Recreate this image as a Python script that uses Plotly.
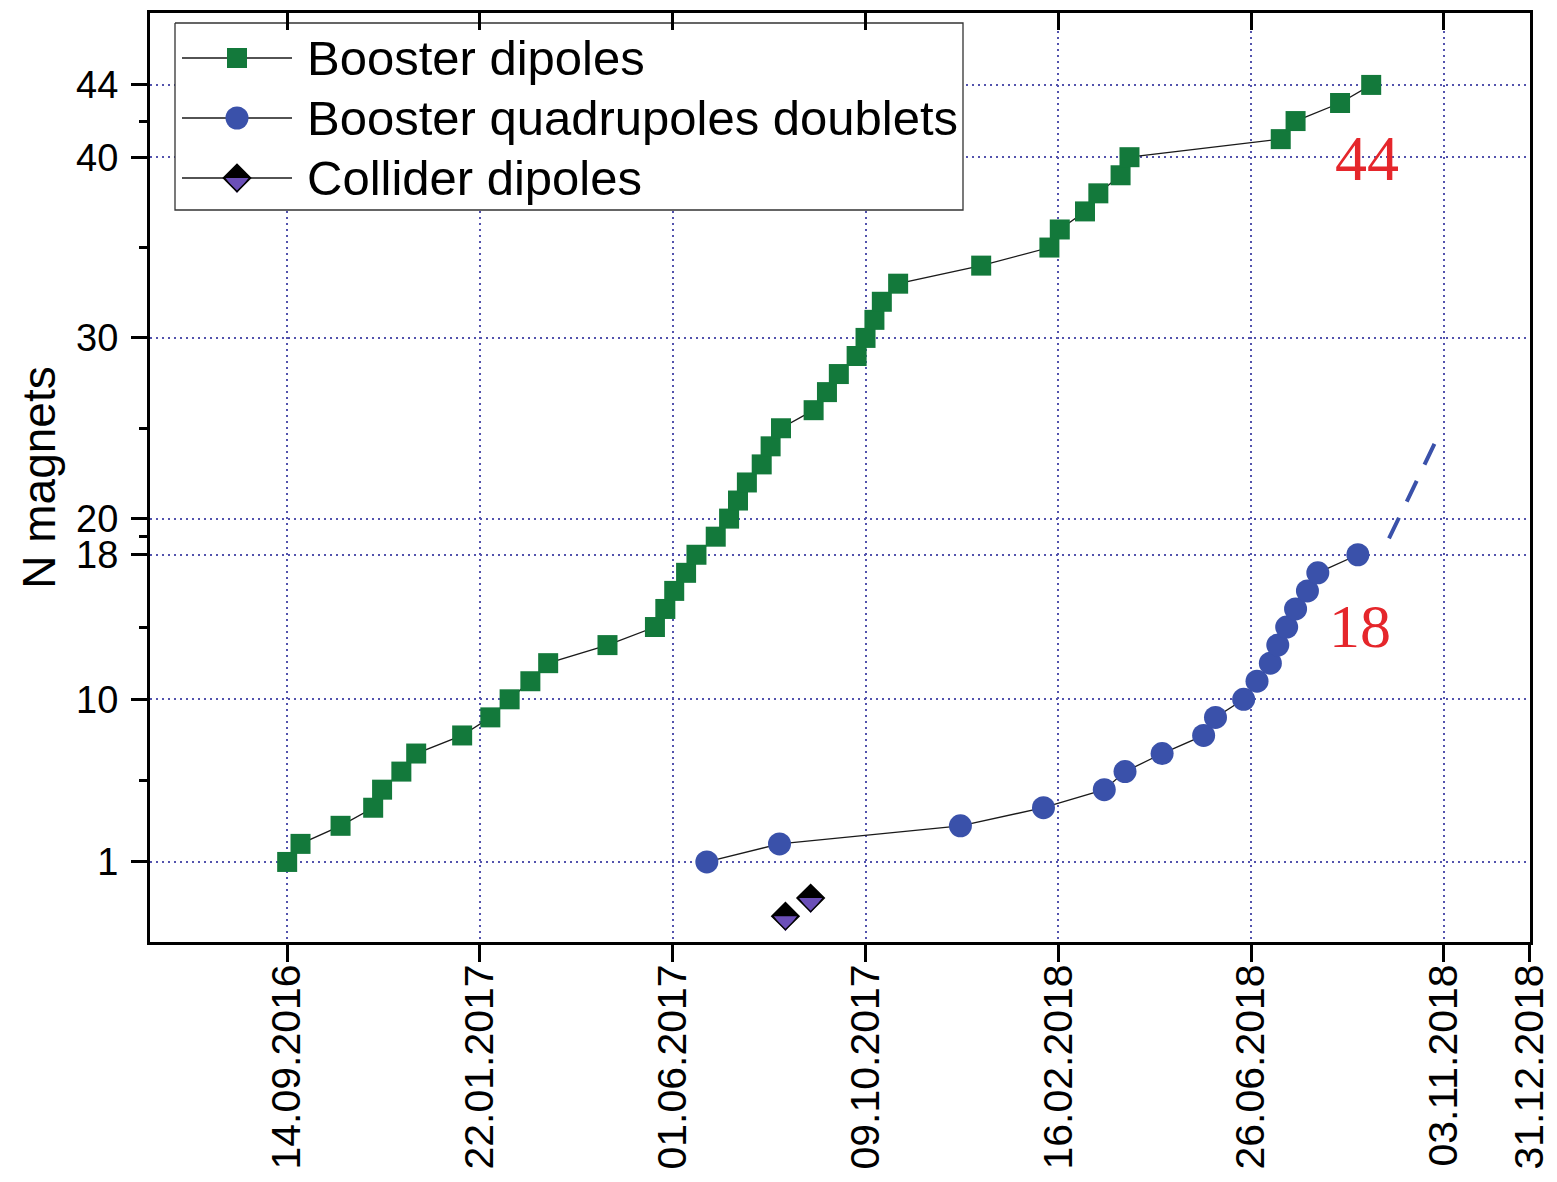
import plotly.graph_objects as go

# ---------------------------------------------------------------- data
booster_dipole_dates = [
    "2016-09-14", "2016-09-23", "2016-10-20", "2016-11-11", "2016-11-17", "2016-11-30", "2016-12-10",
    "2017-01-10", "2017-01-29", "2017-02-11", "2017-02-25", "2017-03-09", "2017-04-18", "2017-05-20",
    "2017-05-27", "2017-06-02", "2017-06-10", "2017-06-17", "2017-06-30", "2017-07-09", "2017-07-15",
    "2017-07-21", "2017-07-31", "2017-08-06", "2017-08-13", "2017-09-04", "2017-09-13", "2017-09-21",
    "2017-10-03", "2017-10-09", "2017-10-15", "2017-10-20", "2017-10-31", "2017-12-26", "2018-02-10",
    "2018-02-17", "2018-03-06", "2018-03-15", "2018-03-30", "2018-04-05", "2018-07-16", "2018-07-26",
    "2018-08-25", "2018-09-15",
]
booster_dipole_count = [
    1, 2, 3, 4, 5, 6, 7, 8, 9, 10, 11, 12, 13, 14, 15, 16, 17, 18, 19, 20, 21, 22,
    23, 24, 25, 26, 27, 28, 29, 30, 31, 32, 33, 34, 35, 36, 37, 38, 39, 40, 41, 42, 43, 44,
]

quad_doublet_dates = [
    "2017-06-24", "2017-08-12", "2017-12-12", "2018-02-06", "2018-03-19", "2018-04-02",
    "2018-04-27", "2018-05-25", "2018-06-02", "2018-06-21", "2018-06-30", "2018-07-09",
    "2018-07-14", "2018-07-20", "2018-07-26", "2018-08-03", "2018-08-10", "2018-09-06",
]
quad_doublet_count = [1, 2, 3, 4, 5, 6, 7, 8, 9, 10, 11, 12, 13, 14, 15, 16, 17, 18]

# expected continuation of the doublet series
quad_forecast_dates = ["2018-09-27", "2018-10-28"]
quad_forecast_count = [18.9, 24.2]

collider_dipole_dates = ["2017-08-16", "2017-09-02"]
collider_dipole_count = [1, 2]

date_ticks = ["2016-09-14", "2017-01-22", "2017-06-01", "2017-10-09",
              "2018-02-16", "2018-06-26", "2018-11-03", "2018-12-31"]
count_ticks = [1, 10, 18, 20, 30, 40, 44]
count_minor_ticks = [5.5, 14, 19, 25, 35, 42]

legend_labels = ["Booster dipoles", "Booster quadrupoles doublets", "Collider dipoles"]

# ---------------------------------------------------------------- style
W, H = 1557, 1182
MARGIN = dict(l=150, r=27, t=13, b=240)
PLOT_W = W - MARGIN["l"] - MARGIN["r"]
PLOT_H = H - MARGIN["t"] - MARGIN["b"]
X_RANGE = ["2016-06-13 12:00", "2018-12-31 02:00"]
Y_RANGE = [-3.43, 47.98]

GREEN = "#13793b"
BLUE = "#3a51aa"
PURPLE = "#6b4fb8"
GRID = "#5353ad"
RED = "#e5262b"
LINK = "#1a1a1a"
SANS = "Liberation Sans, Arial, sans-serif"
SERIF = "Liberation Serif, Times New Roman, serif"

# collider dipoles sit below the "1" gridline so they stay clear of the doublets
COLLIDER_SHIFT = -3
DIAMOND_SIZE = 21
TRI_SIZE = 20
TRI_DROP_PX = 5  # moves the lower-half triangle so its flat edge meets the diamond centre

px_per_unit = PLOT_H / (Y_RANGE[1] - Y_RANGE[0])
tri_drop = TRI_DROP_PX / px_per_unit

fig = go.Figure()

# ---------------------------------------------------------------- series
fig.add_trace(go.Scatter(
    x=booster_dipole_dates, y=booster_dipole_count, mode="lines+markers",
    line=dict(color=LINK, width=1.3),
    marker=dict(symbol="square", size=20, color=GREEN, line=dict(width=0)),
    showlegend=False, hoverinfo="x+y",
))
fig.add_trace(go.Scatter(
    x=quad_doublet_dates, y=quad_doublet_count, mode="lines+markers",
    line=dict(color=LINK, width=1.3),
    marker=dict(symbol="circle", size=23, color=BLUE, line=dict(width=0)),
    showlegend=False, hoverinfo="x+y",
))
fig.add_trace(go.Scatter(
    x=quad_forecast_dates, y=quad_forecast_count, mode="lines",
    line=dict(color=BLUE, width=4, dash="23px,18px"),
    showlegend=False, hoverinfo="skip",
))

collider_y = [c + COLLIDER_SHIFT for c in collider_dipole_count]
fig.add_trace(go.Scatter(
    x=collider_dipole_dates, y=collider_y, mode="markers",
    marker=dict(symbol="diamond", size=DIAMOND_SIZE, color="black", line=dict(width=0)),
    showlegend=False, hoverinfo="skip",
))
fig.add_trace(go.Scatter(
    x=collider_dipole_dates, y=[v - tri_drop for v in collider_y], mode="markers",
    marker=dict(symbol="triangle-down", size=TRI_SIZE, color=PURPLE, line=dict(width=0)),
    showlegend=False, hoverinfo="skip",
))
fig.add_trace(go.Scatter(
    x=collider_dipole_dates, y=collider_y, mode="markers",
    marker=dict(symbol="diamond", size=DIAMOND_SIZE, color="rgba(0,0,0,0)",
                line=dict(width=1.5, color="black")),
    showlegend=False, hoverinfo="x+y",
))

# inward ticks along the top edge
fig.add_trace(go.Scatter(x=[date_ticks[0]], y=[None], xaxis="x2", yaxis="y",
                         showlegend=False, hoverinfo="skip"))

# ---------------------------------------------------------------- legend (pixel overlay)
LEG_BOX = dict(x0=25, x1=813, y0=10, y1=197)
LEG_ROWS = [45, 105, 165]
LEG_LINE = (32, 142)
LEG_MARK_X = 87
LEG_TEXT_X = 155

fig.add_trace(go.Scatter(
    x=[LEG_BOX["x0"], LEG_BOX["x1"], LEG_BOX["x1"], LEG_BOX["x0"], LEG_BOX["x0"]],
    y=[LEG_BOX["y0"], LEG_BOX["y0"], LEG_BOX["y1"], LEG_BOX["y1"], LEG_BOX["y0"]],
    mode="lines", fill="toself", fillcolor="white", line=dict(color="#333333", width=1.3),
    xaxis="x3", yaxis="y3", showlegend=False, hoverinfo="skip",
))
for ry in LEG_ROWS:
    fig.add_trace(go.Scatter(
        x=list(LEG_LINE), y=[ry, ry], mode="lines", line=dict(color=LINK, width=1.3),
        xaxis="x3", yaxis="y3", showlegend=False, hoverinfo="skip",
    ))
fig.add_trace(go.Scatter(
    x=[LEG_MARK_X], y=[LEG_ROWS[0]], mode="markers",
    marker=dict(symbol="square", size=20, color=GREEN, line=dict(width=0)),
    xaxis="x3", yaxis="y3", showlegend=False, hoverinfo="skip",
))
fig.add_trace(go.Scatter(
    x=[LEG_MARK_X], y=[LEG_ROWS[1]], mode="markers",
    marker=dict(symbol="circle", size=23, color=BLUE, line=dict(width=0)),
    xaxis="x3", yaxis="y3", showlegend=False, hoverinfo="skip",
))
fig.add_trace(go.Scatter(
    x=[LEG_MARK_X], y=[LEG_ROWS[2]], mode="markers",
    marker=dict(symbol="diamond", size=DIAMOND_SIZE, color="black", line=dict(width=0)),
    xaxis="x3", yaxis="y3", showlegend=False, hoverinfo="skip",
))
fig.add_trace(go.Scatter(
    x=[LEG_MARK_X], y=[LEG_ROWS[2] + TRI_DROP_PX], mode="markers",
    marker=dict(symbol="triangle-down", size=TRI_SIZE, color=PURPLE, line=dict(width=0)),
    xaxis="x3", yaxis="y3", showlegend=False, hoverinfo="skip",
))
fig.add_trace(go.Scatter(
    x=[LEG_MARK_X], y=[LEG_ROWS[2]], mode="markers",
    marker=dict(symbol="diamond", size=DIAMOND_SIZE, color="rgba(0,0,0,0)",
                line=dict(width=1.5, color="black")),
    xaxis="x3", yaxis="y3", showlegend=False, hoverinfo="skip",
))

annotations = []
for label, ry in zip(legend_labels, LEG_ROWS):
    annotations.append(dict(
        x=LEG_TEXT_X, y=ry, xref="x3", yref="y3", text=label, showarrow=False,
        xanchor="left", yanchor="middle", font=dict(family=SANS, size=49, color="black"),
    ))

# totals written next to the last point of each series
annotations.append(dict(
    x=booster_dipole_dates[-1], y=booster_dipole_count[-1], xref="x", yref="y",
    text=str(booster_dipole_count[-1]), showarrow=False, xshift=-4, yshift=-74,
    font=dict(family=SERIF, size=64, color=RED),
))
annotations.append(dict(
    x=quad_doublet_dates[-1], y=quad_doublet_count[-1], xref="x", yref="y",
    text=str(quad_doublet_count[-1]), showarrow=False, xshift=2, yshift=-71,
    font=dict(family=SERIF, size=62, color=RED),
))

fig.update_layout(
    width=W, height=H, margin=MARGIN,
    paper_bgcolor="white", plot_bgcolor="white",
    showlegend=False,
    font=dict(family=SANS, color="black"),
    annotations=annotations,
    xaxis=dict(
        type="date", range=X_RANGE, tickvals=date_ticks, tickformat="%d.%m.%Y",
        tickangle=-90, tickfont=dict(size=41, family=SANS, color="black"),
        ticks="outside", ticklen=17, tickwidth=3, tickcolor="black",
        showline=True, linewidth=3, linecolor="black", mirror=True,
        showgrid=True, gridcolor=GRID, gridwidth=1.6, griddash="2px,4px",
        zeroline=False, ticklabelstandoff=-14, automargin=False,
    ),
    xaxis2=dict(
        type="date", range=X_RANGE, tickvals=date_ticks, overlaying="x", side="top",
        anchor="y", ticks="inside", ticklen=17, tickwidth=3, tickcolor="black",
        showticklabels=False, showgrid=False, showline=False, zeroline=False,
        automargin=False,
    ),
    yaxis=dict(
        range=Y_RANGE, tickvals=count_ticks,
        tickfont=dict(size=38, family=SANS, color="black"),
        ticks="outside", ticklen=16, tickwidth=3, tickcolor="black",
        minor=dict(tickvals=count_minor_ticks, ticks="outside", ticklen=8,
                   tickwidth=3, tickcolor="black", showgrid=False),
        showline=True, linewidth=3, linecolor="black", mirror=True,
        showgrid=True, gridcolor=GRID, gridwidth=1.6, griddash="2px,4px",
        zeroline=False, ticklabelstandoff=5, automargin=False,
        title=dict(text="N magnets", font=dict(size=46, family=SANS, color="black"), standoff=7),
    ),
    xaxis3=dict(range=[0, PLOT_W], overlaying="x", anchor="y3", visible=False, automargin=False),
    yaxis3=dict(range=[PLOT_H, 0], overlaying="y", anchor="x3", visible=False, automargin=False),
)

fig.write_html("out.html")
